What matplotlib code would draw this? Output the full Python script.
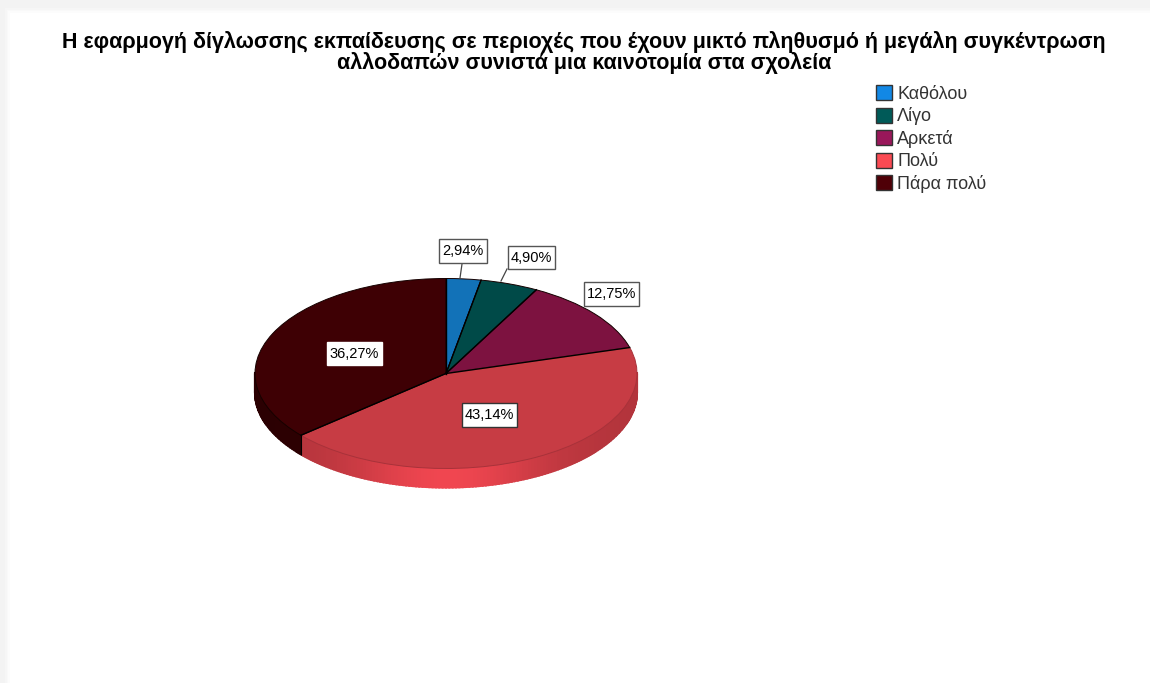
import numpy as np
import matplotlib
matplotlib.use("Agg")
import matplotlib.pyplot as plt
from matplotlib.patches import Patch, Rectangle, Polygon

plt.rcParams['font.family'] = ['Liberation Sans', 'DejaVu Sans']

title = ("Η εφαρμογή δίγλωσσης εκπαίδευσης σε περιοχές που έχουν μικτό πληθυσμό ή μεγάλη συγκέντρωση\n"
         "αλλοδαπών συνιστά μια καινοτομία στα σχολεία")
categories = ["Καθόλου", "Λίγο", "Αρκετά", "Πολύ", "Πάρα πολύ"]
values = [2.94, 4.90, 12.75, 43.14, 36.27]
value_labels = ["2,94%", "4,90%", "12,75%", "43,14%", "36,27%"]
face_colors = ["#1272b8", "#004a48", "#7d1240", "#c73c44", "#3e0004"]
legend_colors = ["#1288e5", "#005a58", "#99175a", "#fa4a53", "#4f0007"]
side_colors = ["#1272b8", "#004a48", "#7d1240", "#f04650", "#3a0003"]

W, H = 1150, 683
fig = plt.figure(figsize=(W / 100, H / 100), dpi=100, facecolor="#f3f3f3")

def fx(x): return x / W
def fy(y): return 1 - y / H

# page frame
for i, g in enumerate(["#f6f6f6", "#f9f9f9", "#fcfcfc", "#ffffff"]):
    fig.add_artist(Rectangle((fx(5 + i * 1.5), 0), 1, fy(8 + i * 1.5),
                             transform=fig.transFigure, fc=g, ec="none", zorder=-5))

cx, cy, rx, ry, depth = 446.0, 373.5, 191.0, 95.0, 19.0
ax = fig.add_axes([fx(cx - 1.25 * rx), fy(cy + 1.25 * ry), 2.5 * rx / W, 2.5 * ry / H])
dy = depth / ry  # side depth in axes data units

# rim, drawn from the same slice angles as the top face
edges = 90 - np.cumsum([0] + values) * 3.6
for k, col in enumerate(side_colors):
    a0, a1 = edges[k], edges[k + 1]
    angs = np.linspace(a0, a1, max(int(abs(a1 - a0)), 2))
    base = np.array(matplotlib.colors.to_rgb(col))
    for t0, t1 in zip(angs[:-1], angs[1:]):
        if np.sin(np.radians((t0 + t1) / 2)) > 0.02:
            continue
        shade = 0.74 + 0.26 * np.exp(-(np.cos(np.radians((t0 + t1) / 2)) / 0.5) ** 2)
        c = tuple(base * shade)
        x0, x1 = np.cos(np.radians([t0, t1]))
        y0, y1 = np.sin(np.radians([t0, t1]))
        ax.add_patch(Polygon([(x0, y0), (x1, y1), (x1, y1 - dy), (x0, y0 - dy)],
                             fc=c, ec=c, lw=1.5, zorder=1))

wedges, _ = ax.pie(values, colors=face_colors, startangle=90, counterclock=False,
                   wedgeprops=dict(edgecolor="#150000", linewidth=0.7, zorder=2))
wedges[3].set_edgecolor("#a8323a")
ax.set_aspect("auto")
ax.set_xlim(-1.25, 1.25)
ax.set_ylim(-1.25, 1.25)

# slice boundaries in black over the softer red rim edge
for e in edges[:-1]:
    a = np.radians(e)
    ax.plot([0, np.cos(a)], [0, np.sin(a)], color="black", lw=1.0, zorder=3)

# rim separator at the red/dark boundary
ang = np.radians(edges[4])
ax.plot([np.cos(ang)] * 2, [np.sin(ang), np.sin(ang) - dy], color="black", lw=0.8, zorder=3)

fig.text(fx(584), fy(52.5), title, ha="center", va="center", fontsize=15.5, fontweight="bold",
         linespacing=0.9, color="black")

# value label boxes in pixels: left, top, right, bottom
label_boxes = [(439, 239, 487, 263), (508, 246, 555, 269), (584, 282, 639, 306),
               (462, 403, 517, 427), (327, 342, 382, 365)]
edge_cols = ["#555555", "#555555", "#555555", "#333333", "#ffffff"]
for s, (l, t, r, b), ec in zip(value_labels, label_boxes, edge_cols):
    fig.add_artist(Rectangle((fx(l), fy(b)), (r - l) / W, (b - t) / H, transform=fig.transFigure,
                             fc="white", ec=ec, lw=1.0, zorder=6))
    fig.text(fx((l + r) / 2), fy((t + b) / 2), s, ha="center", va="center", fontsize=10.5,
             color="black", zorder=7)

# leader lines
for (x0, y0, x1, y1) in [(460, 278, 462, 264), (501, 281, 507, 269)]:
    fig.add_artist(plt.Line2D([fx(x0), fx(x1)], [fy(y0), fy(y1)], color="#444444", lw=0.9,
                              transform=fig.transFigure, zorder=5))

handles = [Patch(fc=c, ec="#333333", lw=1.0) for c in legend_colors]
leg = fig.legend(handles, categories, loc="upper left", bbox_to_anchor=(fx(876), fy(85)),
                 bbox_transform=fig.transFigure, frameon=False, fontsize=13, borderpad=0, borderaxespad=0,
                 handlelength=0.89, handleheight=0.89, handletextpad=0.28, labelspacing=0.26,
                 labelcolor="#333333")

fig.savefig("out.png", dpi=100, facecolor=fig.get_facecolor())
